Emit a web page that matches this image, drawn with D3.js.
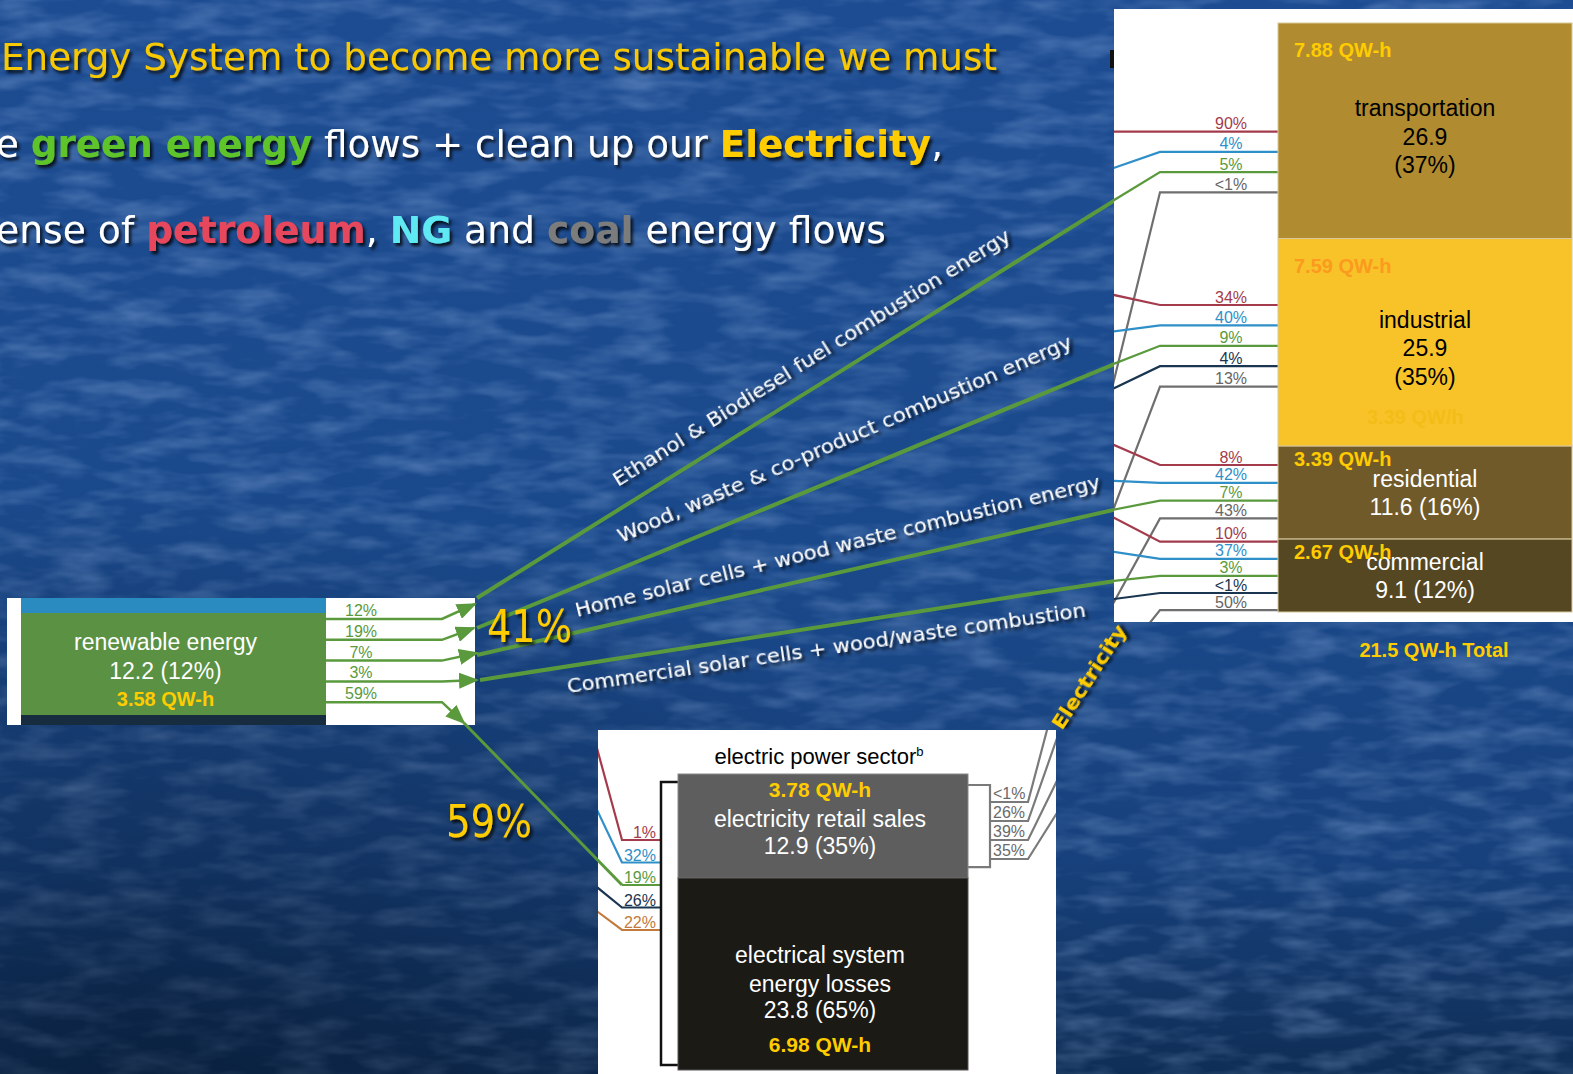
<!DOCTYPE html>
<html><head><meta charset="utf-8">
<script src="https://cdn.jsdelivr.net/npm/d3@7"></script>
<style>html,body{margin:0;padding:0;background:#1a4a8e;overflow:hidden}text{white-space:pre}</style>
</head><body><svg id="c" width="1573" height="1074"></svg>
<script>
// ================= DATA =================
const titleLine1 = [{t:"Energy System to become more sustainable we must", s:"yellowThin"}];
const titleLine2 = [{t:"e ",s:"white"},{t:"green energy",s:"green"},{t:" flows + clean up our ",s:"white"},{t:"Electricity",s:"yellow"},{t:",",s:"white"}];
const titleLine3 = [{t:"ense of ",s:"white"},{t:"petroleum",s:"red"},{t:", ",s:"white"},{t:"NG",s:"cyan"},{t:" and ",s:"white"},{t:"coal",s:"gray"},{t:" energy flows",s:"white"}];

const sectors = ["transportation","industrial","residential","commercial"];
const sectorQuads = [26.9, 25.9, 11.6, 9.1];
const sectorShares = [37, 35, 16, 12];
const sectorQWh = [7.88, 7.59, 3.39, 2.67];
const sources = ["petroleum","naturalGas","renewable","coal","electricity"];
const sectorSourceShares = [
  ["90%","4%","5%",null,"<1%"],
  ["34%","40%","9%","4%","13%"],
  ["8%","42%","7%",null,"43%"],
  ["10%","37%","3%","<1%","50%"]
];
const totalQWh = 21.5;

const renewableName = "renewable energy";
const renewableQuads = 12.2, renewableShare = 12, renewableQWh = 3.58;
const renewableSplits = ["12%","19%","7%","3%","59%"];
const renewableFlows = ["Ethanol & Biodiesel fuel combustion energy","Wood, waste & co-product combustion energy","Home solar cells + wood waste combustion energy","Commercial solar cells + wood/waste combustion"];
const renewableDirectShare = "41%", renewableElectricShare = "59%";

const electricTitle = "electric power sector";
const electricParts = [["electricity retail sales"],["electrical system","energy losses"]];
const electricQuads = [12.9, 23.8];
const electricShares = [35, 65];
const electricQWh = [3.78, 6.98];
const electricInputs = ["petroleum","naturalGas","renewable","coal","nuclear"];
const electricInputShares = ["1%","32%","19%","26%","22%"];
const electricOutputShares = ["<1%","26%","39%","35%"];

// ================= STYLE / LAYOUT =================
const W=1573,H=1074;
const C={petroleum:"#a33b4c",naturalGas:"#2f8fc8",renewable:"#5a9a3d",coal:"#1a3550",electricity:"#6f6f6f",nuclear:"#c27a3c"};
const fSlide="Tahoma, 'DejaVu Sans', Verdana, sans-serif";
const fChart="'Liberation Sans', Arial, Helvetica, sans-serif";
const titleStyles={yellowThin:{fill:"#f8c800",w:"normal"},white:{fill:"#ffffff",w:"normal"},green:{fill:"#5fc42c",w:"bold"},
  yellow:{fill:"#ffcc00",w:"bold"},red:{fill:"#e6475c",w:"bold"},cyan:{fill:"#5fe9f2",w:"bold"},gray:{fill:"#7b7b7b",w:"bold"}};
const titleLayout=[{parts:titleLine1,x:1,y:70,len:996},{parts:titleLine2,x:-4,y:157,len:947},{parts:titleLine3,x:-4,y:243,len:890}];

const RP={x:1114,y:9,w:459,h:613};
const SB={x:1278,w:294,y0:23,y1:612};
const sectorFill=["#b08b2f","#f8c329","#715a2a","#554721"];
const sectorText=["#000","#000","#fff","#fff"];
const sectorQColor=["#ffcc00","#fb9a1e","#ffcc00","#ffcc00"];
const RL={bendX:1160,labelX:1231,lineStart:[131.7,305,465,541.7],lineGap:[20.2,20.4,17.8,17.1],
  entryDy:[[0,16,28,0],[-10,6,18,22],[-20,-2,9,0],[-24,-7,5,6]],elecSlope:[-0.245,-0.38,-0.55,-0.8]};

const LB={x:7,y:598,w:468,h:127,barX:21,barW:305,blueH:15,greenH:102};
const LA={lineStart:619,lineGap:20.8,bendX:442,labelX:361,
  tips:[[475,604],[474,628],[477,653],[477,680],[464,723]]};
const diagStart=[[477,598],[477,628],[477,655],[480,680]];
const DL=[{x:618,y:487,a:-32.1,len:465},{x:621,y:543,a:-23.4,len:493},{x:577,y:617,a:-13.8,len:540},{x:568,y:693,a:-8.4,len:524}];

const BB={x:598,y:730,w:458,h:344};
const EB={x:678,w:290,y0:774,y1:1070};
const EL={lineStart:840,lineGap:22.5,bendX:622,endX:661,labelX:656,entry:[[598,752],[598,812],null,[598,888],[598,912]]};
const EO={lineStart:802,lineGap:19,x0:990,bendX:1028,labelX:993,slope:[-0.264,-0.35,-0.49,-0.63]};

// ================= DRAW =================
const svg=d3.select("#c");
const defs=svg.append("defs");
const bg=defs.append("linearGradient").attr("id","bg").attr("x1",0).attr("y1",0).attr("x2",0).attr("y2",1);
[[0,"#1d4c92"],[0.5,"#1a498b"],[0.8,"#17417c"],[1,"#0f2e56"]].forEach(([o,c])=>bg.append("stop").attr("offset",o).attr("stop-color",c));
const bg2=defs.append("radialGradient").attr("id","bg2").attr("cx",0.1).attr("cy",1).attr("r",0.55);
bg2.append("stop").attr("offset",0).attr("stop-color","#06162c").attr("stop-opacity",0.55);
bg2.append("stop").attr("offset",1).attr("stop-color","#06162c").attr("stop-opacity",0);
const nf=defs.append("filter").attr("id","noise").attr("x",0).attr("y",0).attr("width","100%").attr("height","100%");
nf.append("feTurbulence").attr("type","fractalNoise").attr("baseFrequency","0.018 0.055").attr("numOctaves",3).attr("seed",11);
nf.append("feColorMatrix").attr("values","0 0 0 0 0.42  0 0 0 0 0.6  0 0 0 0 0.92  0.6 0 0 0 -0.24");
const sh=defs.append("filter").attr("id","sh").attr("x","-5%").attr("y","-30%").attr("width","115%").attr("height","170%");
sh.append("feDropShadow").attr("dx",2.5).attr("dy",3).attr("stdDeviation",1.6).attr("flood-color","#000").attr("flood-opacity",0.8);
defs.append("marker").attr("id","arr").attr("viewBox","0 0 20 16").attr("refX",18).attr("refY",8)
  .attr("markerWidth",20).attr("markerHeight",16).attr("markerUnits","userSpaceOnUse").attr("orient","auto")
  .append("path").attr("d","M0,0L20,8L0,16Z").attr("fill",C.renewable);
defs.append("clipPath").attr("id","rpclip").append("rect").attr("x",RP.x).attr("y",RP.y).attr("width",RP.w).attr("height",RP.h);
defs.append("clipPath").attr("id","bbclip").append("rect").attr("x",BB.x).attr("y",BB.y).attr("width",BB.w).attr("height",BB.h);

svg.append("rect").attr("width",W).attr("height",H).attr("fill","url(#bg)");
svg.append("rect").attr("width",W).attr("height",H).attr("filter","url(#noise)");
svg.append("rect").attr("width",W).attr("height",H).attr("fill","url(#bg2)");

// title
titleLayout.forEach(L=>{
  const t=svg.append("text").attr("x",L.x).attr("y",L.y).attr("font-family",fSlide).attr("font-size",38)
    .attr("textLength",L.len).attr("lengthAdjust","spacingAndGlyphs").attr("filter","url(#sh)");
  t.selectAll("tspan").data(L.parts).join("tspan").text(d=>d.t)
    .attr("fill",d=>titleStyles[d.s].fill).attr("font-weight",d=>titleStyles[d.s].w);
});

const line=d3.line();

// diagonal renewable flows (on background)
const yS=d3.scaleLinear().domain([0,d3.sum(sectorQuads)]).range([SB.y0,SB.y1]);
const cum=Array.from(d3.cumsum([0,...sectorQuads]));
const greenEntry=[];
sectorSourceShares.forEach((row,si)=>{
  let k=0;
  row.forEach((lab,ci)=>{ if(lab==null) return; const y=RL.lineStart[si]+k*RL.lineGap[si]; k++;
    if(sources[ci]==="renewable") greenEntry[si]=[RP.x+1,y+RL.entryDy[si][ci]]; });
});
renewableFlows.forEach((name,i)=>{
  svg.append("path").attr("d",line([diagStart[i],greenEntry[i]])).attr("stroke",C.renewable).attr("stroke-width",4).attr("fill","none");
  const d=DL[i];
  svg.append("text").attr("transform",`translate(${d.x},${d.y}) rotate(${d.a})`).attr("font-family",fSlide).attr("font-size",19)
    .attr("fill","#fff").attr("textLength",d.len).attr("lengthAdjust","spacingAndGlyphs").attr("filter","url(#sh)").text(name);
});

// right white panel
svg.append("rect").attr("x",RP.x).attr("y",RP.y).attr("width",RP.w).attr("height",RP.h).attr("fill","#fff");
svg.append("rect").attr("x",1110).attr("y",50).attr("width",4).attr("height",18).attr("fill","#111");
const gR=svg.append("g").attr("clip-path","url(#rpclip)");
sectorSourceShares.forEach((row,si)=>{
  let k=0;
  row.forEach((lab,ci)=>{
    if(lab==null) return;
    const y=RL.lineStart[si]+k*RL.lineGap[si]; k++;
    const src=sources[ci];
    let pts;
    if(src==="electricity"){ const s=RL.elecSlope[si]; pts=[[SB.x,y],[RL.bendX,y],[RL.bendX+s*(700-y),700]]; }
    else { const ey=y+RL.entryDy[si][ci]; const sl=(ey-y)/(RP.x-RL.bendX); pts=[[SB.x,y],[RL.bendX,y],[RP.x-10,y+sl*(RP.x-10-RL.bendX)]]; }
    gR.append("path").attr("d",line(pts)).attr("stroke",C[src]).attr("stroke-width",2.2).attr("fill","none");
    gR.append("text").attr("x",RL.labelX).attr("y",y-2.5).attr("text-anchor","middle").attr("font-family",fChart).attr("font-size",16)
      .attr("fill",src==="electricity"?"#666":C[src]).text(lab);
  });
});
sectors.forEach((name,i)=>{
  const top=yS(cum[i]), bot=yS(cum[i+1]), h=bot-top, mid=(top+bot)/2, tall=h>150;
  gR.append("rect").attr("x",SB.x).attr("y",top).attr("width",SB.w).attr("height",h).attr("fill",sectorFill[i]).attr("stroke","#d8c99c").attr("stroke-width",1);
  const f=d3.format(".1f");
  const lines=tall?[name,f(sectorQuads[i]),`(${sectorShares[i]}%)`]:[name,`${f(sectorQuads[i])} (${sectorShares[i]}%)`];
  const base=mid+(tall?14:8), gap=tall?28.5:28;
  lines.forEach((t,j)=>gR.append("text").attr("x",SB.x+SB.w/2).attr("y",base+(j-(lines.length-1)/2)*gap).attr("text-anchor","middle")
    .attr("font-family",fChart).attr("font-size",23).attr("fill",sectorText[i]).text(t));
  gR.append("text").attr("x",SB.x+16).attr("y",top+(tall?34:20)).attr("font-family",fChart).attr("font-size",20).attr("font-weight","bold")
    .attr("fill",sectorQColor[i]).text(`${d3.format(".2f")(sectorQWh[i])} QW-h`);
  if(name==="industrial") gR.append("text").attr("x",SB.x+89).attr("y",bot-22).attr("font-family",fChart).attr("font-size",20).attr("font-weight","bold")
    .attr("fill","#f3bd18").text(`${d3.format(".2f")(sectorQWh[2])} QW/h`);
});
svg.append("text").attr("x",1434).attr("y",657).attr("text-anchor","middle").attr("font-family",fChart).attr("font-size",20).attr("font-weight","bold")
  .attr("fill","#ffcc00").text(`${totalQWh} QW-h Total`);

// Electricity label
svg.append("text").attr("transform","translate(1062,731) rotate(-57)").attr("font-family",fSlide).attr("font-size",20).attr("font-weight","bold")
  .attr("fill","#ffcc00").attr("textLength",120).attr("lengthAdjust","spacingAndGlyphs").attr("filter","url(#sh)").text("Electricity");

// left renewable box
svg.append("rect").attr("x",LB.x).attr("y",LB.y).attr("width",LB.w).attr("height",LB.h).attr("fill","#fff");
svg.append("rect").attr("x",LB.barX).attr("y",LB.y).attr("width",LB.barW).attr("height",LB.blueH).attr("fill","#2a8bc0");
svg.append("rect").attr("x",LB.barX).attr("y",LB.y+LB.blueH).attr("width",LB.barW).attr("height",LB.greenH).attr("fill","#5b9143");
svg.append("rect").attr("x",LB.barX).attr("y",LB.y+LB.blueH+LB.greenH).attr("width",LB.barW).attr("height",LB.h-LB.blueH-LB.greenH).attr("fill","#172c3f");
const lcx=LB.barX+LB.barW/2-8;
svg.append("text").attr("x",lcx).attr("y",650).attr("text-anchor","middle").attr("font-family",fChart).attr("font-size",23).attr("fill","#fff").text(renewableName);
svg.append("text").attr("x",lcx).attr("y",679).attr("text-anchor","middle").attr("font-family",fChart).attr("font-size",23).attr("fill","#fff").text(`${renewableQuads} (${renewableShare}%)`);
svg.append("text").attr("x",lcx).attr("y",706).attr("text-anchor","middle").attr("font-family",fChart).attr("font-size",20).attr("font-weight","bold").attr("fill","#ffcc00").text(`${renewableQWh} QW-h`);
renewableSplits.forEach((lab,i)=>{
  const y=LA.lineStart+i*LA.lineGap;
  svg.append("path").attr("d",line([[LB.barX+LB.barW,y],[LA.bendX,y],LA.tips[i]])).attr("stroke",C.renewable).attr("stroke-width",2.5)
    .attr("fill","none").attr("marker-end","url(#arr)");
  svg.append("text").attr("x",LA.labelX).attr("y",y-3).attr("text-anchor","middle").attr("font-family",fChart).attr("font-size",16).attr("fill",C.renewable).text(lab);
});

// big percentages
svg.append("text").attr("x",487).attr("y",642).attr("font-family",fSlide).attr("font-size",44).attr("fill","#ffcc00").attr("textLength",85)
  .attr("lengthAdjust","spacingAndGlyphs").attr("filter","url(#sh)").text(renewableDirectShare);
svg.append("text").attr("x",446).attr("y",837).attr("font-family",fSlide).attr("font-size",44).attr("fill","#ffcc00").attr("textLength",86)
  .attr("lengthAdjust","spacingAndGlyphs").attr("filter","url(#sh)").text(renewableElectricShare);

// bottom electric box
svg.append("rect").attr("x",BB.x).attr("y",BB.y).attr("width",BB.w).attr("height",BB.h).attr("fill","#fff");
const gB=svg.append("g").attr("clip-path","url(#bbclip)");
const yE=d3.scaleLinear().domain([0,d3.sum(electricQuads)]).range([EB.y0,EB.y1]);
const t1=gB.append("text").attr("x",EB.x+EB.w/2-4).attr("y",764).attr("text-anchor","middle").attr("font-family",fChart).attr("font-size",22).attr("fill","#000");
t1.append("tspan").text(electricTitle); t1.append("tspan").attr("font-size",13).attr("dy",-8).text("b");
electricInputs.forEach((src,i)=>{
  const y=EL.lineStart+i*EL.lineGap;
  let pts;
  if(EL.entry[i]){ const [ex,ey]=EL.entry[i]; const sl=(ey-y)/(ex-EL.bendX); pts=[[EL.endX,y],[EL.bendX,y],[BB.x-10,y+sl*(BB.x-10-EL.bendX)]]; }
  else pts=[[EL.endX,y],[EL.bendX,y]];
  gB.append("path").attr("d",line(pts)).attr("stroke",C[src]).attr("stroke-width",2.2).attr("fill","none");
  gB.append("text").attr("x",EL.labelX).attr("y",y-2).attr("text-anchor","end").attr("font-family",fChart).attr("font-size",16).attr("fill",C[src]).text(electricInputShares[i]);
});
// the 59% renewable line into electric sector
svg.append("path").attr("d",line([LA.tips[4],[EL.bendX,EL.lineStart+2*EL.lineGap]])).attr("stroke",C.renewable).attr("stroke-width",3).attr("fill","none");
electricOutputShares.forEach((lab,i)=>{
  const y=EO.lineStart+i*EO.lineGap, s=EO.slope[i];
  gB.append("path").attr("d",line([[EO.x0,y],[EO.bendX,y],[EO.bendX+s*(700-y),700]])).attr("stroke","#7a7a7a").attr("stroke-width",2.2).attr("fill","none");
  gB.append("text").attr("x",EO.labelX).attr("y",y-3).attr("font-family",fChart).attr("font-size",16).attr("fill","#6a6a6a").text(lab);
});
const eTop=[yE(0),yE(electricQuads[0])], eBot=[yE(electricQuads[0]),yE(d3.sum(electricQuads))];
gB.append("path").attr("d",line([[EB.x+EB.w,eTop[0]+11],[EO.x0,eTop[0]+11],[EO.x0,eTop[1]-11],[EB.x+EB.w,eTop[1]-11]])).attr("stroke","#7a7a7a").attr("stroke-width",2.2).attr("fill","none");
gB.append("path").attr("d",line([[EB.x,eTop[0]+8],[EL.endX,eTop[0]+8],[EL.endX,eBot[1]-5],[EB.x,eBot[1]-5]])).attr("stroke","#111").attr("stroke-width",2.5).attr("fill","none");
gB.append("rect").attr("x",EB.x).attr("y",eTop[0]).attr("width",EB.w).attr("height",eTop[1]-eTop[0]).attr("fill","#5e5e5e").attr("stroke","#888").attr("stroke-width",1);
gB.append("rect").attr("x",EB.x).attr("y",eBot[0]).attr("width",EB.w).attr("height",eBot[1]-eBot[0]).attr("fill","#1b1a14").attr("stroke","#555").attr("stroke-width",1);
const ecx=EB.x+EB.w/2-3;
const etxt=(y,t,yellow)=>gB.append("text").attr("x",ecx).attr("y",y).attr("text-anchor","middle").attr("font-family",fChart)
  .attr("font-size",yellow?21:23).attr("font-weight",yellow?"bold":"normal").attr("fill",yellow?"#ffcc00":"#fff").text(t);
etxt(eTop[0]+23,`${electricQWh[0]} QW-h`,true);
electricParts[0].forEach((t,j)=>etxt(eTop[0]+53+j*28,t));
etxt(eTop[0]+80,`${electricQuads[0]} (${electricShares[0]}%)`);
electricParts[1].forEach((t,j)=>etxt(eBot[0]+85+j*29,t));
etxt(eBot[0]+140,`${electricQuads[1]} (${electricShares[1]}%)`);
etxt(eBot[0]+174,`${electricQWh[1]} QW-h`,true);
</script></body></html>
